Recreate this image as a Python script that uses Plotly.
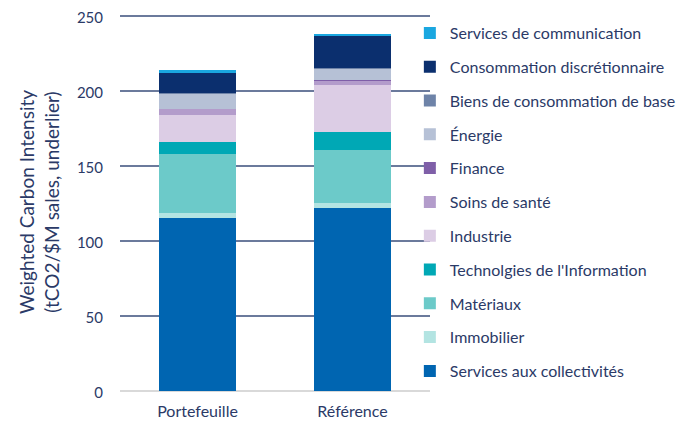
import plotly.graph_objects as go

categories = ["Portefeuille", "Référence"]

# bottom -> top stacking order
sectors = [
    "Services aux collectivités",
    "Immobilier",
    "Matériaux",
    "Technolgies de l'Information",
    "Industrie",
    "Soins de santé",
    "Finance",
    "Énergie",
    "Biens de consommation de base",
    "Consommation discrétionnaire",
    "Services de communication",
]
portefeuille = [115.5, 3.2, 39.5, 8.0, 17.8, 4.0, 0.3, 10.0, 0.5, 13.5, 1.8]
reference = [122.2, 3.3, 35.0, 12.2, 31.5, 3.0, 0.3, 7.5, 0.5, 21.0, 1.8]
colors = ["#0065b1", "#b3e4e2", "#6ccac9", "#00a8b5", "#dccde5", "#b39ccb",
          "#7f5fa8", "#b6c1d6", "#6e83a8", "#0b2f6e", "#1aa7e0"]

y_ticks = [0, 50, 100, 150, 200, 250]

text_color = "#2b3a67"
font_family = "Lato, 'Open Sans', sans-serif"

fig = go.Figure()
for i, (name, p, r, c) in enumerate(zip(sectors, portefeuille, reference, colors)):
    fig.add_trace(go.Bar(
        x=categories, y=[p, r], name=name, legendgroup=name,
        legendrank=1000 - i,
        marker=dict(color=c, line=dict(width=0)),
    ))

# page has an 8px body margin: plot area target = x 120..430, y 13..391 (page px)
fig.update_layout(
    barmode="stack",
    bargap=0.5,
    width=694, height=423,
    margin=dict(l=112, r=272, t=5, b=40, autoexpand=False),
    paper_bgcolor="white", plot_bgcolor="white",
    font=dict(family=font_family, color=text_color, size=14),
    legend=dict(
        x=0.935, xanchor="left", y=0.992, yanchor="top",
        traceorder="grouped", tracegroupgap=10,
        font=dict(size=16, color=text_color),
        bgcolor="rgba(0,0,0,0)",
        maxheight=600,
    ),
    yaxis=dict(
        range=[0, 252], tickvals=y_ticks, automargin=False,
        ticklabeloverflow="allow", ticklabelshift=2,
        showgrid=True, gridcolor="#6b7a9c", gridwidth=1.5,
        zeroline=True, zerolinecolor="#d9d9d9", zerolinewidth=2,
        ticklabelstandoff=16,
        tickfont=dict(size=15, color=text_color),
        title=dict(text="Weighted Carbon Intensity<br>(tCO2/$M sales, underlier)",
                   font=dict(size=19, color=text_color), standoff=12),
    ),
    xaxis=dict(
        showgrid=False, showline=False, automargin=False,
        ticklabelstandoff=9,
        tickfont=dict(size=16, color=text_color),
    ),
)

fig.write_html("out.html")
